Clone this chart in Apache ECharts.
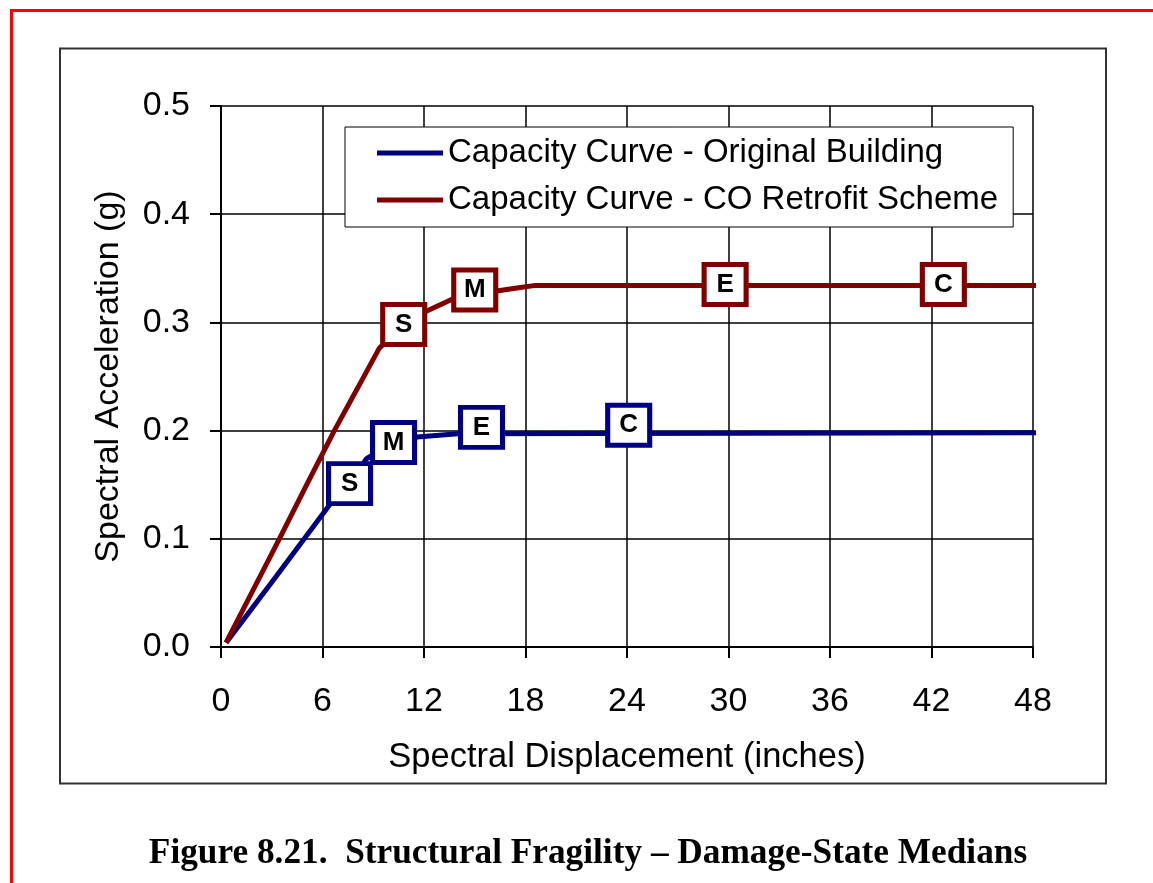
<!DOCTYPE html>
<html>
<head>
    <meta charset="UTF-8">
    <title>Structural Fragility - Damage-State Medians</title>
    <script src="https://cdn.jsdelivr.net/npm/echarts@6/dist/echarts.min.js"></script>
    <style>
        html, body { margin: 0; padding: 0; background: #fff; }
        #chart { width: 1153px; height: 883px; }
    </style>
</head>
<body>
<div id="chart"></div>
<script>
    // capacity curves (spectral displacement in inches, spectral acceleration in g)
    var origDisp = [0.3, 3.3, 6.4, 7.6, 8.6, 10.2, 11.6, 14, 48.4];
    var origAcc = [0.004, 0.066, 0.131, 0.151, 0.174, 0.189, 0.194, 0.197, 0.198];
    var retroDisp = [0.3, 3.45, 5, 6.7, 8.1, 9.35, 10.8, 12.1, 13.6, 15, 16.3, 17.6, 18.5, 48.4];
    var retroAcc = [0.004, 0.1, 0.148, 0.2, 0.24, 0.276, 0.298, 0.31, 0.321, 0.327, 0.329, 0.332, 0.334, 0.334];

    // damage-state medians (Slight, Moderate, Extensive, Complete)
    var stateLabels = ['S', 'M', 'E', 'C'];
    var origStateDisp = [7.6, 10.2, 15.4, 24.1];
    var origStateAcc = [0.151, 0.189, 0.203, 0.205];
    var retroStateDisp = [10.8, 15.0, 29.8, 42.7];
    var retroStateAcc = [0.298, 0.330, 0.335, 0.335];

    var seriesNames = ['Capacity Curve - Original Building', 'Capacity Curve - CO Retrofit Scheme'];
    var blue = '#000080', red = '#800000';

    function pairs(xs, ys) {
        var out = [];
        for (var i = 0; i < xs.length; i++) out.push([xs[i], ys[i]]);
        return out;
    }
    function stateData(xs, ys) {
        var out = [];
        for (var i = 0; i < xs.length; i++) out.push({value: [xs[i], ys[i]], label: {formatter: stateLabels[i]}});
        return out;
    }
    function stateSeries(xs, ys, color) {
        return {
            type: 'scatter',
            symbol: 'rect',
            symbolSize: [42, 40],
            z: 5,
            clip: false,
            itemStyle: {color: '#fff', borderColor: color, borderWidth: 5, opacity: 1},
            label: {
                show: true, position: 'inside', color: '#000',
                fontFamily: 'Liberation Sans, Arial', fontWeight: 'bold', fontSize: 26
            },
            data: stateData(xs, ys)
        };
    }

    var font = 'Liberation Sans, Arial, sans-serif';
    var myChart = echarts.init(document.getElementById('chart'));
    var option = {
        animation: false,
        graphic: [
            // red page mark
            {type: 'rect', shape: {x: 11.5, y: 10.5, width: 1300, height: 1000},
                style: {fill: 'none', stroke: '#ff0000', lineWidth: 3}},
            // chart frame
            {type: 'rect', shape: {x: 60, y: 48.5, width: 1046, height: 735},
                style: {fill: 'none', stroke: '#333', lineWidth: 2}},
            {type: 'text', x: 588, y: 854, scaleX: 0.98,
                style: {text: 'Figure 8.21.  Structural Fragility \u2013 Damage-State Medians',
                    font: 'bold 36px "Liberation Serif", "Times New Roman", serif',
                    fill: '#000', align: 'center', verticalAlign: 'middle'}}
        ],
        legend: {
            data: [
                {name: seriesNames[0], icon: 'rect', itemStyle: {color: blue}},
                {name: seriesNames[1], icon: 'rect', itemStyle: {color: red}}
            ],
            orient: 'vertical',
            left: 345, top: 127,
            padding: [7, 15, 8, 32],
            itemGap: 9,
            itemWidth: 66, itemHeight: 5,
            backgroundColor: '#fff',
            borderColor: '#000', borderWidth: 1,
            textStyle: {fontFamily: font, fontSize: 33, color: '#000', lineHeight: 38}
        },
        grid: {left: 221, right: 120, top: 106, bottom: 236},
        xAxis: {
            type: 'value', min: 0, max: 48, interval: 6,
            name: 'Spectral Displacement (inches)', nameLocation: 'middle', nameGap: 93,
            nameTextStyle: {fontFamily: font, fontSize: 34.5, color: '#000'},
            axisLine: {onZero: false, lineStyle: {color: '#000', width: 2}},
            axisTick: {show: true, length: 11, lineStyle: {color: '#000', width: 2}},
            axisLabel: {fontFamily: font, fontSize: 34, color: '#000', margin: 38},
            splitLine: {show: true, lineStyle: {color: '#000', width: 1.5}}
        },
        yAxis: {
            type: 'value', min: 0, max: 0.5, interval: 0.1,
            name: 'Spectral Acceleration (g)', nameLocation: 'middle', nameGap: 95,
            nameTextStyle: {fontFamily: font, fontSize: 34, color: '#000'},
            axisLine: {show: true, onZero: false, lineStyle: {color: '#000', width: 2}},
            axisTick: {show: true, length: 11, lineStyle: {color: '#000', width: 2}},
            axisLabel: {fontFamily: font, fontSize: 34, color: '#000', margin: 31,
                formatter: function (v) { return v.toFixed(1); }},
            splitLine: {show: true, lineStyle: {color: '#000', width: 1.5}}
        },
        series: [
            {
                name: seriesNames[0], type: 'line', symbol: 'none', clip: false, z: 3,
                lineStyle: {color: blue, width: 5}, itemStyle: {color: blue},
                data: pairs(origDisp, origAcc)
            },
            {
                name: seriesNames[1], type: 'line', symbol: 'none', clip: false, z: 3,
                lineStyle: {color: red, width: 5}, itemStyle: {color: red},
                data: pairs(retroDisp, retroAcc)
            },
            stateSeries(origStateDisp, origStateAcc, blue),
            stateSeries(retroStateDisp, retroStateAcc, red)
        ]
    };
    myChart.setOption(option);
</script>
</body>
</html>
